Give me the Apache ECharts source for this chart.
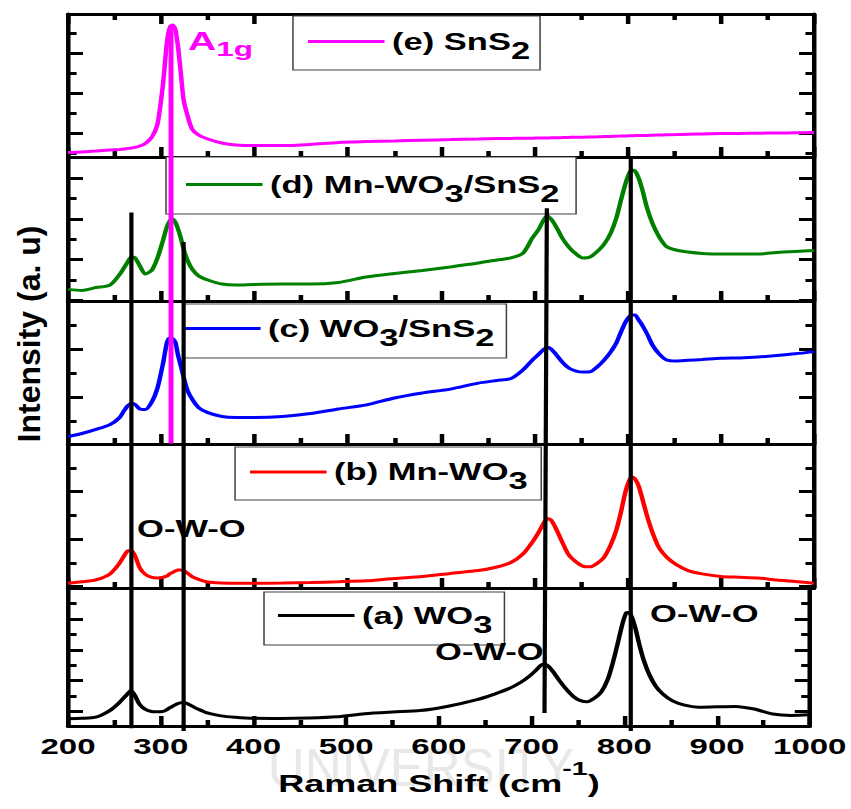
<!DOCTYPE html>
<html>
<head>
<meta charset="utf-8">
<title>Raman spectra</title>
<script src="https://cdn.jsdelivr.net/npm/echarts@6/dist/echarts.min.js"></script>
<style>
  html, body { margin: 0; padding: 0; background: #ffffff; overflow: hidden; }
  /* the figure is laid out narrow and widened horizontally, like the published plot */
  #chart { width: 567px; height: 809px; transform: scaleX(1.500882); transform-origin: 0 0; }
</style>
</head>
<body>
<div id="chart"></div>
<script>
// Raman shift sampling (cm^-1), shared by all spectra
const ramanShift = [200, 215, 230, 245, 255, 260, 264, 268, 272, 277,
  283, 290, 296, 302, 306, 309, 312, 315, 318, 321,
  324, 328, 333, 340, 350, 365, 380, 400, 430, 460,
  490, 520, 550, 580, 610, 640, 660, 675, 688, 698,
  705, 710, 714, 718, 723, 730, 737, 745, 752, 760,
  768, 775, 782, 788, 793, 798, 802, 805, 808, 812,
  816, 821, 827, 834, 842, 852, 865, 880, 900, 920,
  940, 960, 980, 1000];

// intensities (a. u.), one array per sample
const snS2 = [1.02, 1.05, 1.10, 1.15, 1.18, 1.20, 1.23, 1.25, 1.28, 1.35,
  1.48, 1.80, 2.45, 4.50, 6.50, 7.25, 7.40, 7.20, 6.30, 5.00,
  3.65, 2.90, 2.20, 1.90, 1.70, 1.50, 1.40, 1.37, 1.37, 1.43,
  1.53, 1.57, 1.60, 1.64, 1.67, 1.70, 1.72, 1.73, 1.74, 1.74,
  1.75, 1.75, 1.75, 1.76, 1.76, 1.77, 1.78, 1.79, 1.79, 1.80,
  1.81, 1.82, 1.83, 1.84, 1.85, 1.85, 1.86, 1.86, 1.87, 1.87,
  1.88, 1.88, 1.89, 1.90, 1.91, 1.92, 1.94, 1.95, 1.97, 1.98,
  1.99, 2.00, 2.01, 2.02];

const mnWo3SnS2 = [2.54, 2.49, 2.63, 2.75, 3.25, 3.59, 3.88, 4.13, 4.08, 3.69,
  3.29, 3.49, 4.08, 4.96, 5.60, 5.89, 5.99, 5.84, 5.50, 5.06,
  4.52, 3.98, 3.54, 3.20, 3.00, 2.80, 2.75, 2.78, 2.80, 2.80,
  2.88, 3.15, 3.32, 3.47, 3.64, 3.83, 3.98, 4.08, 4.32, 5.06,
  5.50, 5.94, 6.14, 5.99, 5.65, 5.06, 4.62, 4.27, 4.08, 4.13,
  4.42, 4.76, 5.30, 6.04, 6.92, 7.75, 8.25, 8.39, 8.34, 8.00,
  7.41, 6.53, 5.75, 5.11, 4.63, 4.47, 4.37, 4.30, 4.27, 4.27,
  4.27, 4.35, 4.40, 4.44];

const wo3SnS2 = [0.35, 0.48, 0.65, 0.85, 1.13, 1.42, 1.63, 1.73, 1.69, 1.50,
  1.48, 1.80, 2.38, 3.42, 4.25, 4.46, 4.44, 4.29, 3.75, 3.29,
  2.83, 2.29, 1.92, 1.56, 1.35, 1.19, 1.15, 1.15, 1.19, 1.31,
  1.50, 1.67, 1.96, 2.17, 2.33, 2.58, 2.69, 2.77, 3.13, 3.54,
  3.79, 3.98, 4.07, 4.00, 3.79, 3.46, 3.21, 3.08, 3.04, 3.05,
  3.27, 3.54, 3.88, 4.25, 4.71, 5.13, 5.35, 5.42, 5.42, 5.21,
  4.98, 4.63, 4.15, 3.79, 3.54, 3.50, 3.53, 3.56, 3.61, 3.63,
  3.67, 3.73, 3.80, 3.89];

const mnWo3 = [2.15, 2.21, 2.29, 2.54, 2.98, 3.29, 3.51, 3.53, 3.29, 2.79,
  2.52, 2.39, 2.37, 2.40, 2.45, 2.54, 2.60, 2.66, 2.71, 2.71,
  2.68, 2.58, 2.43, 2.31, 2.20, 2.16, 2.15, 2.15, 2.16, 2.18,
  2.21, 2.25, 2.35, 2.43, 2.56, 2.68, 2.83, 3.02, 3.38, 3.88,
  4.31, 4.67, 4.87, 4.81, 4.47, 3.88, 3.34, 3.04, 2.87, 2.84,
  3.00, 3.25, 3.76, 4.39, 5.15, 6.03, 6.49, 6.62, 6.54, 6.24,
  5.69, 4.98, 4.26, 3.63, 3.25, 2.94, 2.68, 2.54, 2.43, 2.40,
  2.37, 2.28, 2.22, 2.15];

const wo3 = [1.54, 1.56, 1.63, 2.06, 2.56, 2.88, 3.13, 3.36, 3.06, 2.48,
  2.16, 2.00, 1.98, 2.00, 2.09, 2.22, 2.31, 2.41, 2.50, 2.56,
  2.58, 2.53, 2.38, 2.16, 1.91, 1.72, 1.63, 1.56, 1.55, 1.58,
  1.66, 1.86, 1.97, 2.06, 2.34, 2.75, 3.13, 3.47, 3.88, 4.31,
  4.69, 5.00, 5.08, 4.94, 4.59, 4.00, 3.47, 2.97, 2.72, 2.63,
  2.88, 3.25, 4.06, 5.25, 6.44, 7.69, 8.38, 8.41, 8.13, 7.38,
  6.38, 5.31, 4.38, 3.63, 3.11, 2.69, 2.41, 2.28, 2.31, 2.33,
  2.16, 1.84, 1.75, 1.79];

// sample names and legend captions (with sub-scripts)
const sampleNames = ['SnS2', 'Mn-WO3/SnS2', 'WO3/SnS2', 'Mn-WO3', 'WO3'];
const sampleCaptions = [
  '{m|(e) SnS}{s|2}',
  '{m|(d) Mn-WO}{s|3}{m|/SnS}{s|2}',
  '{m|(c) WO}{s|3}{m|/SnS}{s|2}',
  '{m|(b) Mn-WO}{s|3}',
  '{m|(a) WO}{s|3}'
];

// x axis range and step (cm^-1)
const shiftAxis = [200, 1000, 100];

// band guide lines: Raman shift at upper / lower end, and their heights
// as a percentage of the whole stack
const guideShiftTop = [268, 324, 713.5, 803.5, 310.5];
const guideShiftBottom = [268, 324, 711, 803.5, 310.5];
const guideTop = [72.3, 68.2, 72.9, 80.1, 98.5];
const guideBottom = [0.4, 0, 2.5, 0, 40.1];

// band assignments
const noteText = ['{a|A}{as|1g}', '{o|O-W-O}', '{o|O-W-O}', '{o|O-W-O}'];
const noteShift = [328.7, 274.0, 593.6, 824.1];
const noteLevel = [96.2, 28.2, 11.1, 16.4];

// ---------------------------------------------------------------- layout
const K = 851 / 567;
const FONT = '"Liberation Sans", Arial, Helvetica, sans-serif';
const gridLeft = 68 / K;
const gridRight = 567 - 814 / K;
const panelTop = [14, 157, 301, 444, 588];
const panelHeight = [143, 144, 143, 144, 143];
const panelRange = [[0.8, 7.95], [1.97, 9.03], [0.042, 6.0], [1.947, 8.01], [1.0625, 10.0]];
const panelValues = [snS2, mnWo3SnS2, wo3SnS2, mnWo3, wo3];
const panelColor = ['#ff00ff', '#008000', '#0000ff', '#ff0000', '#000000'];
const legendLeft = [195.2, 110.6, 121.9, 156.6, 175.9];
const legendTop = [16, 157, 304, 447, 592];
const legendPad = [[5, 6.6, 8, 10], [7, 11, 9, 13.3], [4, 8, 9, 0.7], [4.5, 9, 7.5, 10], [3, 8, 9, 9.3]];

const black = '#000000';

const grids = panelTop.map((t, i) => ({ left: gridLeft, right: gridRight, top: t, height: panelHeight[i] }));
grids.push({ left: gridLeft, right: gridRight, top: 14, height: 717 });

function shiftAxisFor(gridIndex, position, withLabels) {
  return {
    type: 'value', gridIndex, position,
    min: shiftAxis[0], max: shiftAxis[1], interval: shiftAxis[2],
    axisLine: { show: true, onZero: false, lineStyle: { color: black, width: 3 } },
    axisTick: { show: true, inside: true, length: 10, lineStyle: { color: black, width: 3 } },
    minorTick: { show: true, splitNumber: 2, length: 6, lineStyle: { color: black, width: 3 } },
    splitLine: { show: false }, minorSplitLine: { show: false },
    axisLabel: withLabels ? {
      show: true, margin: 10, color: black, fontFamily: FONT, fontSize: 22, fontWeight: 'bold',
      showMinLabel: true, showMaxLabel: true, formatter: v => String(v)
    } : { show: false }
  };
}

const xAxes = [
  shiftAxisFor(0, 'bottom', false),
  shiftAxisFor(0, 'top', false),
  shiftAxisFor(1, 'bottom', false),
  shiftAxisFor(2, 'bottom', false),
  shiftAxisFor(3, 'bottom', false),
  Object.assign(shiftAxisFor(4, 'bottom', true), {
    name: '{t|Raman Shift (cm}{u|-1}{t|)}',
    nameLocation: 'middle',
    nameGap: 43.5,
    nameTextStyle: {
      rich: {
        t: { fontFamily: FONT, fontSize: 24, fontWeight: 'bold', color: black, lineHeight: 28 },
        u: { fontFamily: FONT, fontSize: 19, fontWeight: 'bold', color: black, lineHeight: 10, padding: [0, 0, 30, 0] }
      }
    }
  }),
  { type: 'value', gridIndex: 5, min: shiftAxis[0], max: shiftAxis[1], show: false }
];

// each panel gets long ticks every 2 units and short ticks every unit, on both sides
const yAxes = [];
panelRange.forEach((r, g) => {
  const base = {
    type: 'value', gridIndex: g, min: r[0], max: r[1],
    axisLabel: { show: false }, splitLine: { show: false }
  };
  ['left', 'right'].forEach(pos => {
    yAxes.push(Object.assign({}, base, {
      position: pos, minInterval: 2, maxInterval: 2,
      axisLine: { show: true, onZero: false, lineStyle: { color: black, width: 3 } },
      axisTick: { show: true, inside: true, length: 10, lineStyle: { color: black, width: 3 } }
    }));
    yAxes.push(Object.assign({}, base, {
      position: pos, minInterval: 1, maxInterval: 1,
      axisLine: { show: false },
      axisTick: { show: true, inside: true, length: 5.7, lineStyle: { color: black, width: 3 } }
    }));
  });
});
// yAxes order per panel: left-long, left-short, right-long, right-short
yAxes.push({ type: 'value', gridIndex: 5, min: 0, max: 100, show: false });
const overlayY = yAxes.length - 1;

const series = [];
panelValues.forEach((vals, i) => {
  series.push({
    type: 'line', name: sampleNames[i],
    xAxisIndex: i === 0 ? 0 : i + 1,
    yAxisIndex: 4 * i,
    data: ramanShift.map((x, j) => [x, vals[j]]),
    symbol: 'none', showSymbol: false, smooth: 0.25,
    lineStyle: { color: panelColor[i], width: 3 },
    itemStyle: { color: panelColor[i] },
    silent: true, z: 2
  });
});

guideShiftTop.forEach((x, i) => {
  const c = i === 4 ? '#ff00ff' : black;
  series.push({
    type: 'line', xAxisIndex: 6, yAxisIndex: overlayY,
    data: [[x, guideTop[i]], [guideShiftBottom[i], guideBottom[i]]],
    symbol: 'none', lineStyle: { color: c, width: i === 4 ? 3.3 : 2.8, cap: 'butt' },
    silent: true, z: 10
  });
});

series.push({
  type: 'scatter', xAxisIndex: 6, yAxisIndex: overlayY,
  symbolSize: 0.1, itemStyle: { color: 'rgba(0,0,0,0)', opacity: 1 }, silent: true, z: 11,
  data: noteShift.map((x, i) => [x, noteLevel[i]]),
  label: {
    show: true, position: 'right', distance: 0, opacity: 1,
    formatter: p => noteText[p.dataIndex],
    rich: {
      a: { fontFamily: FONT, fontSize: 26, fontWeight: 'bold', color: '#ff00ff', lineHeight: 28 },
      as: { fontFamily: FONT, fontSize: 21, fontWeight: 'bold', color: '#ff00ff', lineHeight: 10, padding: [16, 0, 0, 0] },
      o: { fontFamily: FONT, fontSize: 23, fontWeight: 'bold', color: black, lineHeight: 28 }
    }
  }
});

const legendRich = {
  m: { fontFamily: FONT, fontSize: 23, fontWeight: 'bold', color: black, lineHeight: 28 },
  s: { fontFamily: FONT, fontSize: 23, fontWeight: 'bold', color: black, lineHeight: 10, padding: [18, 0, 0, 0] }
};
const legends = sampleNames.map((name, i) => ({
  data: [name], left: legendLeft[i], top: legendTop[i], orient: 'horizontal',
  padding: legendPad[i], backgroundColor: '#ffffff', borderColor: '#404040', borderWidth: 1,
  icon: 'rect', itemWidth: 51, itemHeight: 3, itemGap: 0,
  itemStyle: { borderWidth: 0 },
  selectedMode: false,
  formatter: () => sampleCaptions[i],
  textStyle: { fontFamily: FONT, fontSize: 23, fontWeight: 'bold', color: black, rich: legendRich }
}));

const chart = echarts.init(document.getElementById('chart'), null, { renderer: 'svg' });
chart.setOption({
  backgroundColor: '#ffffff',
  animation: false,
  grid: grids,
  xAxis: xAxes,
  yAxis: yAxes,
  legend: legends,
  series: series,
  graphic: [
    {
      type: 'text', z: -10, silent: true,
      x: 421 / K, y: 767, scaleX: 0.63,
      style: { text: 'UNIVERSITY', fontFamily: FONT, fontSize: 54, fill: '#e8e8e8', align: 'center', verticalAlign: 'middle' }
    },
    {
      type: 'text', silent: true,
      x: 29 / K, y: 334, rotation: Math.PI / 2, scaleY: 1 / K,
      style: { text: 'Intensity (a. u)', fontFamily: FONT, fontSize: 32, fontWeight: 'bold', fill: black, align: 'center', verticalAlign: 'middle' }
    }
  ]
});
</script>
</body>
</html>
